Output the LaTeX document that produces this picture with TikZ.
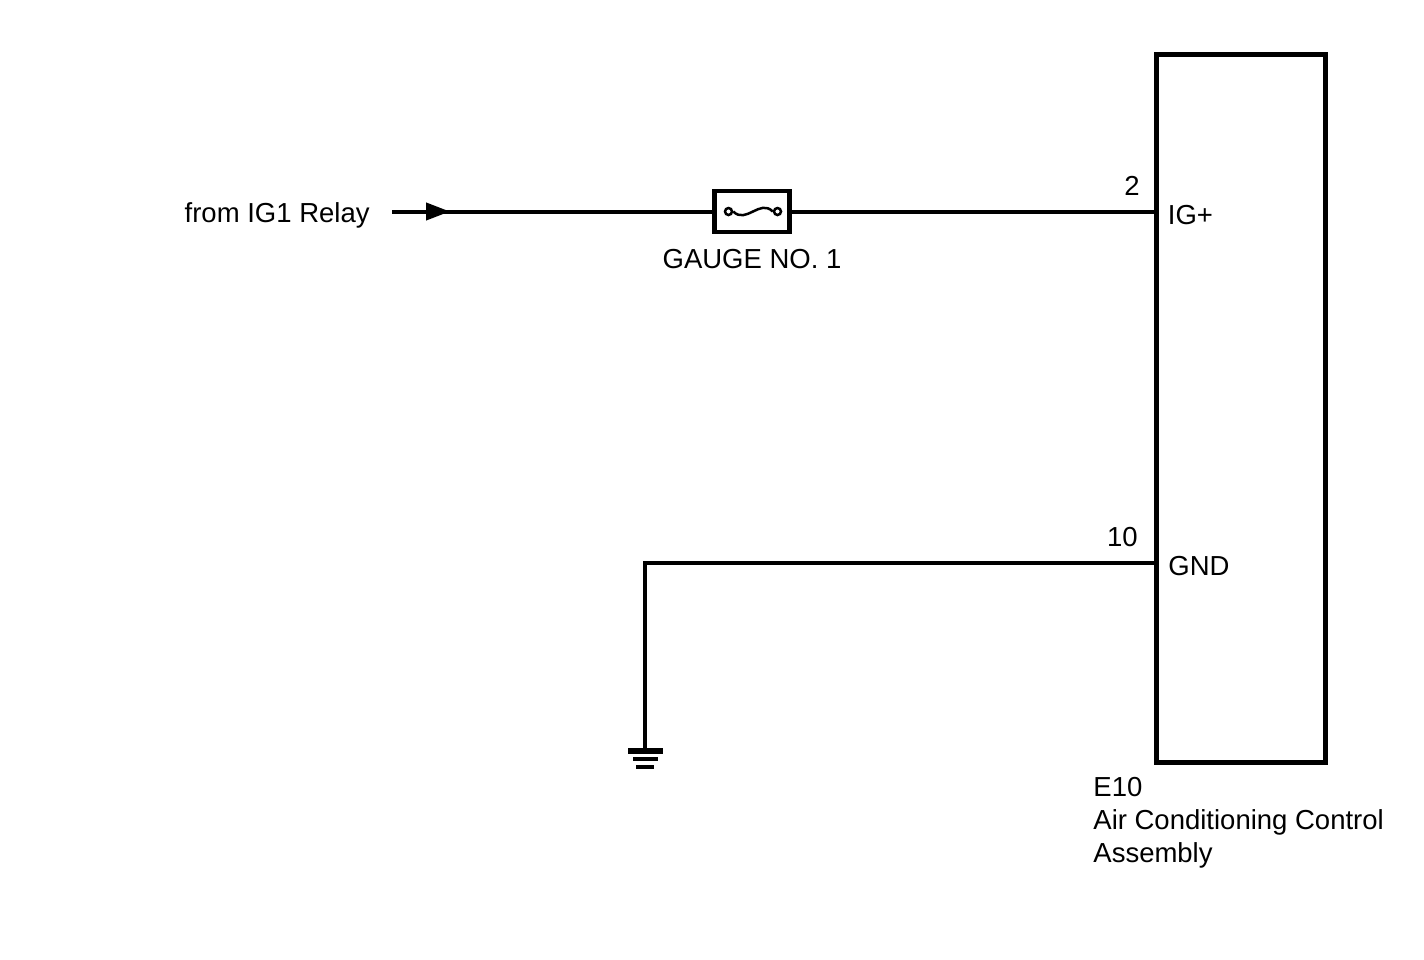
\documentclass[tikz,border=0pt]{standalone}
\usepackage{fontspec}
\setmainfont{Liberation Sans}
\usetikzlibrary{arrows.meta,positioning}
\tikzset{
    wire/.style={
    line width=2pt
    },
    ecubox/.style={
    rectangle,draw=black,line width=2.5pt,minimum width=84.25pt,minimum height=354pt,inner sep=0pt
    },
    fusebox/.style={
    rectangle,draw=black,line width=2.25pt,minimum width=37.5pt,minimum height=20.5pt,inner sep=0pt
    },
    fuseend/.style={
    circle,draw=black,fill=white,line width=1.25pt,minimum size=3.5pt,inner sep=0pt
    },
    txt/.style={
    font=\fontsize{13.75pt}{16.5pt}\selectfont,inner sep=0pt
    },
}
\begin{document}
\begin{tikzpicture}[x=0.5pt,y=-0.5pt]
   \useasboundingbox (0,0) rectangle (1424,959);
   \node[ecubox] (ecu) at (1240.75,408.5) {};
   \node[fusebox] (gauge) at (752,211.5) {};
   \node[fuseend] (fl) at (728.5,211.5) {};
   \node[fuseend] (fr) at (777.5,211.5) {};
   \coordinate (src) at (392,211.5);
   \coordinate (tip) at (450,211.5);
   \coordinate (ig) at (1156.5,211.5);
   \coordinate (gnd) at (1156.5,562.5);
   \coordinate (earth) at (645.3,751);

   %labels
   \node[txt,anchor=base east] (relay) at (370,222) {from IG1 Relay};
   \node[txt,anchor=base] (gaugetxt) at (752,268.5) {GAUGE NO. 1};
   \node[txt,anchor=base east] (p2) at (1140,195) {2};
   \node[txt,anchor=base west] (igtxt) at (1167.5,224.5) {IG+};
   \node[txt,anchor=base east] (p10) at (1138,546) {10};
   \node[txt,anchor=base west] (gndtxt) at (1168,575.5) {GND};
   \node[txt,anchor=base west,align=left] (ecutxt) at (1093,862) {E10\\Air Conditioning Control\\Assembly};

   %IG+ line
   \draw[wire] (src) -- (gauge.west);
   \draw[wire,-{Triangle[length=12pt,width=8.5pt]}] (src) -- (tip);
   \draw[wire] (gauge.east) -- (ig);
   \draw[line width=1.25pt] (fl.east) .. controls +(13,13) and +(-13,-13) .. (fr.west);

   %GND line
   \draw[wire] (gnd) -| (earth);
   \draw[line width=2.85pt] (628,751) -- (663,751);
   \draw[line width=2pt] (633,759) -- (658,759);
   \draw[line width=2pt] (636,767) -- (654,767);
\end{tikzpicture}
\end{document}
